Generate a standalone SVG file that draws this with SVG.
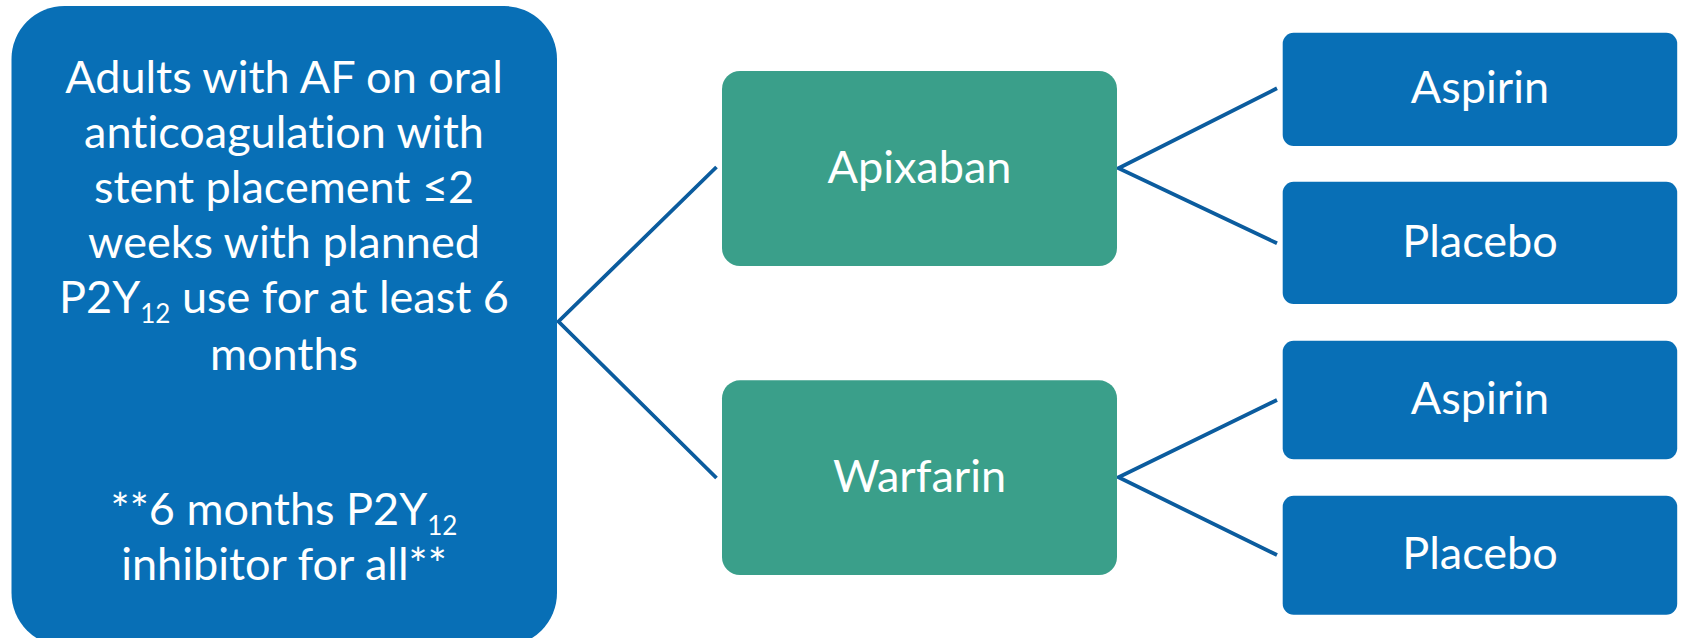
<svg xmlns="http://www.w3.org/2000/svg" width="1681" height="638" viewBox="0 0 1681 638">
<style>
.blue{fill:#086FB6}
.green{fill:#3A9F8A}
.t{font-family:Lato,"Liberation Sans",sans-serif;font-size:45px;fill:#ffffff;text-anchor:middle;font-variant-ligatures:none;font-feature-settings:"liga" 0}
.sub{font-size:26px}
.c{stroke:#0B5C9E;stroke-width:3.8;fill:none;stroke-linejoin:miter}
</style>
<rect width="1681" height="638" fill="#ffffff"/>
<g id="connectors">
<polyline class="c" points="716.5,167 558.5,321.5 716.5,478"/>
<polyline class="c" points="1277,88.3 1118.5,168.3 1277,243.3"/>
<polyline class="c" points="1277,400 1118.5,477.3 1277,555"/>
</g>
<g id="population">
<rect class="blue" x="11.5" y="6" width="545.5" height="640" rx="53"/>
<text class="t" x="284" y="93.3">Adults with AF on oral</text>
<text class="t" x="284" y="148.3">anticoagulation with</text>
<text class="t" x="284" y="203.3">stent placement ≤2</text>
<text class="t" x="284" y="258.3">weeks with planned</text>
<text class="t" x="284" y="313.3"><tspan>P2Y</tspan><tspan class="sub" dy="10">12</tspan><tspan dy="-10"> use for at least 6</tspan></text>
<text class="t" x="284" y="370">months</text>
<text class="t" x="284" y="525"><tspan>**6 months P2Y</tspan><tspan class="sub" dy="10">12</tspan></text>
<text class="t" x="284" y="580">inhibitor for all**</text>
</g>
<g id="apixaban">
<rect class="green" x="722" y="71" width="395" height="195" rx="18"/>
<text class="t" x="919.5" y="182.7">Apixaban</text>
</g>
<g id="warfarin">
<rect class="green" x="722" y="380.3" width="395" height="194.7" rx="18"/>
<text class="t" x="919.5" y="492.3">Warfarin</text>
</g>
<g id="aspirin1">
<rect class="blue" x="1282.7" y="32.7" width="394.5" height="113.3" rx="11"/>
<text class="t" x="1480" y="103.3">Aspirin</text>
</g>
<g id="placebo1">
<rect class="blue" x="1282.7" y="181.7" width="394.5" height="122.3" rx="11"/>
<text class="t" x="1480" y="256.7">Placebo</text>
</g>
<g id="aspirin2">
<rect class="blue" x="1282.7" y="340.7" width="394.5" height="118.6" rx="11"/>
<text class="t" x="1480" y="414.3">Aspirin</text>
</g>
<g id="placebo2">
<rect class="blue" x="1282.7" y="495.7" width="394.5" height="119" rx="11"/>
<text class="t" x="1480" y="569.3">Placebo</text>
</g>
</svg>
